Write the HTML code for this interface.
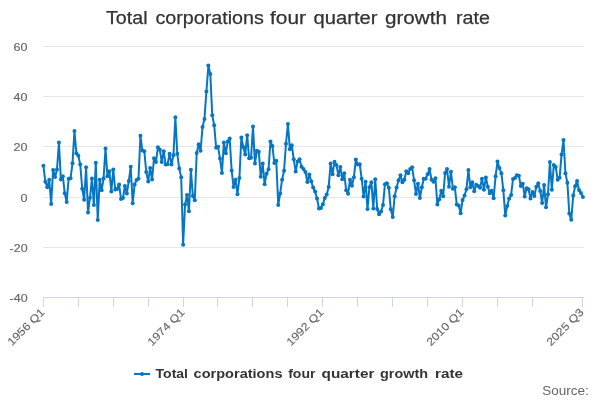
<!DOCTYPE html>
<html><head><meta charset="utf-8"><style>
html,body{margin:0;padding:0;background:#fff;width:600px;height:400px;overflow:hidden}
svg{display:block;font-family:"Liberation Sans",sans-serif;will-change:transform}
</style></head><body>
<svg width="600" height="400" viewBox="0 0 600 400">
<rect width="600" height="400" fill="#fff"/>
<text x="106.00" y="24" font-size="18.3" fill="#333333" stroke="#333333" stroke-width="0.25" textLength="41.50" lengthAdjust="spacingAndGlyphs">Total</text><text x="155.50" y="24" font-size="18.3" fill="#333333" stroke="#333333" stroke-width="0.25" textLength="108.25" lengthAdjust="spacingAndGlyphs">corporations</text><text x="270.00" y="24" font-size="18.3" fill="#333333" stroke="#333333" stroke-width="0.25" textLength="36.00" lengthAdjust="spacingAndGlyphs">four</text><text x="313.50" y="24" font-size="18.3" fill="#333333" stroke="#333333" stroke-width="0.25" textLength="64.00" lengthAdjust="spacingAndGlyphs">quarter</text><text x="385.00" y="24" font-size="18.3" fill="#333333" stroke="#333333" stroke-width="0.25" textLength="62.00" lengthAdjust="spacingAndGlyphs">growth</text><text x="456.00" y="24" font-size="18.3" fill="#333333" stroke="#333333" stroke-width="0.25" textLength="34.00" lengthAdjust="spacingAndGlyphs">rate</text>
<path d="M43 46.5 L584 46.5" stroke="#e6e6e6" stroke-width="1"/><path d="M43 96.5 L584 96.5" stroke="#e6e6e6" stroke-width="1"/><path d="M43 146.5 L584 146.5" stroke="#e6e6e6" stroke-width="1"/><path d="M43 197.5 L584 197.5" stroke="#e6e6e6" stroke-width="1"/><path d="M43 247.5 L584 247.5" stroke="#e6e6e6" stroke-width="1"/>
<path d="M43 297.5 L584 297.5" stroke="#ccd6eb" stroke-width="1"/>
<path d="M43.5 297.5 L43.5 307" stroke="#ccd6eb" stroke-width="1"/><path d="M78.5 297.5 L78.5 307" stroke="#ccd6eb" stroke-width="1"/><path d="M113.5 297.5 L113.5 307" stroke="#ccd6eb" stroke-width="1"/><path d="M148.5 297.5 L148.5 307" stroke="#ccd6eb" stroke-width="1"/><path d="M183.5 297.5 L183.5 307" stroke="#ccd6eb" stroke-width="1"/><path d="M217.5 297.5 L217.5 307" stroke="#ccd6eb" stroke-width="1"/><path d="M252.5 297.5 L252.5 307" stroke="#ccd6eb" stroke-width="1"/><path d="M287.5 297.5 L287.5 307" stroke="#ccd6eb" stroke-width="1"/><path d="M322.5 297.5 L322.5 307" stroke="#ccd6eb" stroke-width="1"/><path d="M357.5 297.5 L357.5 307" stroke="#ccd6eb" stroke-width="1"/><path d="M392.5 297.5 L392.5 307" stroke="#ccd6eb" stroke-width="1"/><path d="M427.5 297.5 L427.5 307" stroke="#ccd6eb" stroke-width="1"/><path d="M462.5 297.5 L462.5 307" stroke="#ccd6eb" stroke-width="1"/><path d="M497.5 297.5 L497.5 307" stroke="#ccd6eb" stroke-width="1"/><path d="M532.5 297.5 L532.5 307" stroke="#ccd6eb" stroke-width="1"/><path d="M582.5 297.5 L582.5 307" stroke="#ccd6eb" stroke-width="1"/>
<g font-size="11" fill="#666666" stroke="#666666" stroke-width="0.15"><text x="27.6" y="50.6" text-anchor="end" textLength="14.0" lengthAdjust="spacingAndGlyphs">60</text><text x="27.6" y="100.6" text-anchor="end" textLength="14.0" lengthAdjust="spacingAndGlyphs">40</text><text x="27.6" y="150.6" text-anchor="end" textLength="14.0" lengthAdjust="spacingAndGlyphs">20</text><text x="27.6" y="201.6" text-anchor="end" textLength="7.0" lengthAdjust="spacingAndGlyphs">0</text><text x="27.6" y="251.6" text-anchor="end" textLength="17.97" lengthAdjust="spacingAndGlyphs">-20</text><text x="27.6" y="301.6" text-anchor="end" textLength="17.97" lengthAdjust="spacingAndGlyphs">-40</text></g>
<g font-size="11" fill="#666666" stroke="#666666" stroke-width="0.15"><text x="45.3" y="313" text-anchor="end" textLength="47.2" lengthAdjust="spacingAndGlyphs" transform="rotate(-45 45.3 313)">1956 Q1</text><text x="185.3" y="313" text-anchor="end" textLength="47.2" lengthAdjust="spacingAndGlyphs" transform="rotate(-45 185.3 313)">1974 Q1</text><text x="324.3" y="313" text-anchor="end" textLength="47.2" lengthAdjust="spacingAndGlyphs" transform="rotate(-45 324.3 313)">1992 Q1</text><text x="464.3" y="313" text-anchor="end" textLength="47.2" lengthAdjust="spacingAndGlyphs" transform="rotate(-45 464.3 313)">2010 Q1</text><text x="584.3" y="313" text-anchor="end" textLength="47.2" lengthAdjust="spacingAndGlyphs" transform="rotate(-45 584.3 313)">2025 Q3</text></g>
<path d="M43.40 165.85 L45.34 181.68 L47.28 187.20 L49.22 179.67 L51.16 204.03 L53.10 170.12 L55.04 176.90 L56.98 169.62 L58.93 142.49 L60.87 179.41 L62.81 176.15 L64.75 193.23 L66.69 202.02 L68.63 178.66 L70.57 178.16 L72.51 163.34 L74.45 130.93 L76.39 153.29 L78.33 155.80 L80.27 164.59 L82.21 188.71 L84.15 199.76 L86.09 167.36 L88.03 212.57 L89.98 197.75 L91.92 178.41 L93.86 205.04 L95.80 162.84 L97.74 220.11 L99.68 179.67 L101.62 190.22 L103.56 178.41 L105.50 148.52 L107.44 176.15 L109.38 171.13 L111.32 191.47 L113.26 169.62 L115.20 189.46 L117.14 188.96 L119.09 184.44 L121.03 199.01 L122.97 198.00 L124.91 185.95 L126.85 193.48 L128.79 180.92 L130.73 166.85 L132.67 203.28 L134.61 184.44 L136.55 179.92 L138.49 178.66 L140.43 135.71 L142.37 150.53 L144.31 151.28 L146.25 171.88 L148.19 181.42 L150.14 168.11 L152.08 179.41 L154.02 158.31 L155.96 162.08 L157.90 147.26 L159.84 149.77 L161.78 162.08 L163.72 151.28 L165.66 164.59 L167.60 164.34 L169.54 153.79 L171.48 164.59 L173.42 155.30 L175.36 117.37 L177.30 153.79 L179.25 168.61 L181.19 177.15 L183.13 244.73 L185.07 204.53 L187.01 194.99 L188.95 211.32 L190.89 169.87 L192.83 195.99 L194.77 200.26 L196.71 153.04 L198.65 144.25 L200.59 150.78 L202.53 126.91 L204.47 118.88 L206.41 91.49 L208.36 65.62 L210.30 73.91 L212.24 115.36 L214.18 125.16 L216.12 147.76 L218.06 146.76 L220.00 158.57 L221.94 172.88 L223.88 142.49 L225.82 153.29 L227.76 141.48 L229.70 138.47 L231.64 170.62 L233.58 186.95 L235.52 179.67 L237.46 194.24 L239.41 177.91 L241.35 137.46 L243.29 147.01 L245.23 154.55 L247.17 135.20 L249.11 158.31 L251.05 157.81 L252.99 126.41 L254.93 163.59 L256.87 150.78 L258.81 151.78 L260.75 176.65 L262.69 163.59 L264.63 184.19 L266.57 173.64 L268.52 169.37 L270.46 141.48 L272.40 146.01 L274.34 163.09 L276.28 160.83 L278.22 205.04 L280.16 193.48 L282.10 179.67 L284.04 170.87 L285.98 143.74 L287.92 123.90 L289.86 149.27 L291.80 145.25 L293.74 159.32 L295.68 171.38 L297.62 161.58 L299.57 159.32 L301.51 166.85 L303.45 169.12 L305.39 171.88 L307.33 181.93 L309.27 174.39 L311.21 181.17 L313.15 187.45 L315.09 191.47 L317.03 198.51 L318.97 208.55 L320.91 208.05 L322.85 204.28 L324.79 198.00 L326.73 194.49 L328.68 186.95 L330.62 163.59 L332.56 174.14 L334.50 161.83 L336.44 165.10 L338.38 175.14 L340.32 167.11 L342.26 179.16 L344.20 173.13 L346.14 190.22 L348.08 193.73 L350.02 179.67 L351.96 185.69 L353.90 177.15 L355.84 159.57 L357.78 164.59 L359.73 164.34 L361.67 178.66 L363.61 196.50 L365.55 181.68 L367.49 209.06 L369.43 187.20 L371.37 182.18 L373.31 208.55 L375.25 179.16 L377.19 209.06 L379.13 214.33 L381.07 211.57 L383.01 205.04 L384.95 184.19 L386.89 183.18 L388.84 187.70 L390.78 209.31 L392.72 217.09 L394.66 196.25 L396.60 187.45 L398.54 180.17 L400.48 175.14 L402.42 182.18 L404.36 179.67 L406.30 171.13 L408.24 173.13 L410.18 169.12 L412.12 167.36 L414.06 180.17 L416.00 193.98 L417.94 183.69 L419.89 198.00 L421.83 187.20 L423.77 178.66 L425.71 178.66 L427.65 174.14 L429.59 169.12 L431.53 179.67 L433.47 181.68 L435.41 178.16 L437.35 204.53 L439.29 199.26 L441.23 190.72 L443.17 196.25 L445.11 172.88 L447.05 169.12 L449.00 186.70 L450.94 171.63 L452.88 188.71 L454.82 187.20 L456.76 204.53 L458.70 205.54 L460.64 213.33 L462.58 200.01 L464.52 195.49 L466.46 189.21 L468.40 170.12 L470.34 187.20 L472.28 182.18 L474.22 191.22 L476.16 184.69 L478.11 185.95 L480.05 187.70 L481.99 178.66 L483.93 189.71 L485.87 177.41 L487.81 186.70 L489.75 193.23 L491.69 190.72 L493.63 198.25 L495.57 176.15 L497.51 161.58 L499.45 168.11 L501.39 173.13 L503.33 190.22 L505.27 215.59 L507.21 206.04 L509.16 198.51 L511.10 194.99 L513.04 178.91 L514.98 177.91 L516.92 175.14 L518.86 175.65 L520.80 185.95 L522.74 183.69 L524.68 196.50 L526.62 188.21 L528.56 189.21 L530.50 198.51 L532.44 191.97 L534.38 195.99 L536.32 186.70 L538.27 183.18 L540.21 190.97 L542.15 203.03 L544.09 184.94 L546.03 207.30 L547.97 194.24 L549.91 162.08 L551.85 189.71 L553.79 165.10 L555.73 167.11 L557.67 179.67 L559.61 177.66 L561.55 154.55 L563.49 139.98 L565.43 173.13 L567.37 182.68 L569.32 213.58 L571.26 219.86 L573.20 195.49 L575.14 186.20 L577.08 180.92 L579.02 189.97 L580.96 192.98 L582.90 197.00" fill="none" stroke="#0676c4" stroke-width="2" stroke-linejoin="round" stroke-linecap="round"/>
<g fill="#0676c4"><circle cx="43.40" cy="165.85" r="2"/><circle cx="45.34" cy="181.68" r="2"/><circle cx="47.28" cy="187.20" r="2"/><circle cx="49.22" cy="179.67" r="2"/><circle cx="51.16" cy="204.03" r="2"/><circle cx="53.10" cy="170.12" r="2"/><circle cx="55.04" cy="176.90" r="2"/><circle cx="56.98" cy="169.62" r="2"/><circle cx="58.93" cy="142.49" r="2"/><circle cx="60.87" cy="179.41" r="2"/><circle cx="62.81" cy="176.15" r="2"/><circle cx="64.75" cy="193.23" r="2"/><circle cx="66.69" cy="202.02" r="2"/><circle cx="68.63" cy="178.66" r="2"/><circle cx="70.57" cy="178.16" r="2"/><circle cx="72.51" cy="163.34" r="2"/><circle cx="74.45" cy="130.93" r="2"/><circle cx="76.39" cy="153.29" r="2"/><circle cx="78.33" cy="155.80" r="2"/><circle cx="80.27" cy="164.59" r="2"/><circle cx="82.21" cy="188.71" r="2"/><circle cx="84.15" cy="199.76" r="2"/><circle cx="86.09" cy="167.36" r="2"/><circle cx="88.03" cy="212.57" r="2"/><circle cx="89.98" cy="197.75" r="2"/><circle cx="91.92" cy="178.41" r="2"/><circle cx="93.86" cy="205.04" r="2"/><circle cx="95.80" cy="162.84" r="2"/><circle cx="97.74" cy="220.11" r="2"/><circle cx="99.68" cy="179.67" r="2"/><circle cx="101.62" cy="190.22" r="2"/><circle cx="103.56" cy="178.41" r="2"/><circle cx="105.50" cy="148.52" r="2"/><circle cx="107.44" cy="176.15" r="2"/><circle cx="109.38" cy="171.13" r="2"/><circle cx="111.32" cy="191.47" r="2"/><circle cx="113.26" cy="169.62" r="2"/><circle cx="115.20" cy="189.46" r="2"/><circle cx="117.14" cy="188.96" r="2"/><circle cx="119.09" cy="184.44" r="2"/><circle cx="121.03" cy="199.01" r="2"/><circle cx="122.97" cy="198.00" r="2"/><circle cx="124.91" cy="185.95" r="2"/><circle cx="126.85" cy="193.48" r="2"/><circle cx="128.79" cy="180.92" r="2"/><circle cx="130.73" cy="166.85" r="2"/><circle cx="132.67" cy="203.28" r="2"/><circle cx="134.61" cy="184.44" r="2"/><circle cx="136.55" cy="179.92" r="2"/><circle cx="138.49" cy="178.66" r="2"/><circle cx="140.43" cy="135.71" r="2"/><circle cx="142.37" cy="150.53" r="2"/><circle cx="144.31" cy="151.28" r="2"/><circle cx="146.25" cy="171.88" r="2"/><circle cx="148.19" cy="181.42" r="2"/><circle cx="150.14" cy="168.11" r="2"/><circle cx="152.08" cy="179.41" r="2"/><circle cx="154.02" cy="158.31" r="2"/><circle cx="155.96" cy="162.08" r="2"/><circle cx="157.90" cy="147.26" r="2"/><circle cx="159.84" cy="149.77" r="2"/><circle cx="161.78" cy="162.08" r="2"/><circle cx="163.72" cy="151.28" r="2"/><circle cx="165.66" cy="164.59" r="2"/><circle cx="167.60" cy="164.34" r="2"/><circle cx="169.54" cy="153.79" r="2"/><circle cx="171.48" cy="164.59" r="2"/><circle cx="173.42" cy="155.30" r="2"/><circle cx="175.36" cy="117.37" r="2"/><circle cx="177.30" cy="153.79" r="2"/><circle cx="179.25" cy="168.61" r="2"/><circle cx="181.19" cy="177.15" r="2"/><circle cx="183.13" cy="244.73" r="2"/><circle cx="185.07" cy="204.53" r="2"/><circle cx="187.01" cy="194.99" r="2"/><circle cx="188.95" cy="211.32" r="2"/><circle cx="190.89" cy="169.87" r="2"/><circle cx="192.83" cy="195.99" r="2"/><circle cx="194.77" cy="200.26" r="2"/><circle cx="196.71" cy="153.04" r="2"/><circle cx="198.65" cy="144.25" r="2"/><circle cx="200.59" cy="150.78" r="2"/><circle cx="202.53" cy="126.91" r="2"/><circle cx="204.47" cy="118.88" r="2"/><circle cx="206.41" cy="91.49" r="2"/><circle cx="208.36" cy="65.62" r="2"/><circle cx="210.30" cy="73.91" r="2"/><circle cx="212.24" cy="115.36" r="2"/><circle cx="214.18" cy="125.16" r="2"/><circle cx="216.12" cy="147.76" r="2"/><circle cx="218.06" cy="146.76" r="2"/><circle cx="220.00" cy="158.57" r="2"/><circle cx="221.94" cy="172.88" r="2"/><circle cx="223.88" cy="142.49" r="2"/><circle cx="225.82" cy="153.29" r="2"/><circle cx="227.76" cy="141.48" r="2"/><circle cx="229.70" cy="138.47" r="2"/><circle cx="231.64" cy="170.62" r="2"/><circle cx="233.58" cy="186.95" r="2"/><circle cx="235.52" cy="179.67" r="2"/><circle cx="237.46" cy="194.24" r="2"/><circle cx="239.41" cy="177.91" r="2"/><circle cx="241.35" cy="137.46" r="2"/><circle cx="243.29" cy="147.01" r="2"/><circle cx="245.23" cy="154.55" r="2"/><circle cx="247.17" cy="135.20" r="2"/><circle cx="249.11" cy="158.31" r="2"/><circle cx="251.05" cy="157.81" r="2"/><circle cx="252.99" cy="126.41" r="2"/><circle cx="254.93" cy="163.59" r="2"/><circle cx="256.87" cy="150.78" r="2"/><circle cx="258.81" cy="151.78" r="2"/><circle cx="260.75" cy="176.65" r="2"/><circle cx="262.69" cy="163.59" r="2"/><circle cx="264.63" cy="184.19" r="2"/><circle cx="266.57" cy="173.64" r="2"/><circle cx="268.52" cy="169.37" r="2"/><circle cx="270.46" cy="141.48" r="2"/><circle cx="272.40" cy="146.01" r="2"/><circle cx="274.34" cy="163.09" r="2"/><circle cx="276.28" cy="160.83" r="2"/><circle cx="278.22" cy="205.04" r="2"/><circle cx="280.16" cy="193.48" r="2"/><circle cx="282.10" cy="179.67" r="2"/><circle cx="284.04" cy="170.87" r="2"/><circle cx="285.98" cy="143.74" r="2"/><circle cx="287.92" cy="123.90" r="2"/><circle cx="289.86" cy="149.27" r="2"/><circle cx="291.80" cy="145.25" r="2"/><circle cx="293.74" cy="159.32" r="2"/><circle cx="295.68" cy="171.38" r="2"/><circle cx="297.62" cy="161.58" r="2"/><circle cx="299.57" cy="159.32" r="2"/><circle cx="301.51" cy="166.85" r="2"/><circle cx="303.45" cy="169.12" r="2"/><circle cx="305.39" cy="171.88" r="2"/><circle cx="307.33" cy="181.93" r="2"/><circle cx="309.27" cy="174.39" r="2"/><circle cx="311.21" cy="181.17" r="2"/><circle cx="313.15" cy="187.45" r="2"/><circle cx="315.09" cy="191.47" r="2"/><circle cx="317.03" cy="198.51" r="2"/><circle cx="318.97" cy="208.55" r="2"/><circle cx="320.91" cy="208.05" r="2"/><circle cx="322.85" cy="204.28" r="2"/><circle cx="324.79" cy="198.00" r="2"/><circle cx="326.73" cy="194.49" r="2"/><circle cx="328.68" cy="186.95" r="2"/><circle cx="330.62" cy="163.59" r="2"/><circle cx="332.56" cy="174.14" r="2"/><circle cx="334.50" cy="161.83" r="2"/><circle cx="336.44" cy="165.10" r="2"/><circle cx="338.38" cy="175.14" r="2"/><circle cx="340.32" cy="167.11" r="2"/><circle cx="342.26" cy="179.16" r="2"/><circle cx="344.20" cy="173.13" r="2"/><circle cx="346.14" cy="190.22" r="2"/><circle cx="348.08" cy="193.73" r="2"/><circle cx="350.02" cy="179.67" r="2"/><circle cx="351.96" cy="185.69" r="2"/><circle cx="353.90" cy="177.15" r="2"/><circle cx="355.84" cy="159.57" r="2"/><circle cx="357.78" cy="164.59" r="2"/><circle cx="359.73" cy="164.34" r="2"/><circle cx="361.67" cy="178.66" r="2"/><circle cx="363.61" cy="196.50" r="2"/><circle cx="365.55" cy="181.68" r="2"/><circle cx="367.49" cy="209.06" r="2"/><circle cx="369.43" cy="187.20" r="2"/><circle cx="371.37" cy="182.18" r="2"/><circle cx="373.31" cy="208.55" r="2"/><circle cx="375.25" cy="179.16" r="2"/><circle cx="377.19" cy="209.06" r="2"/><circle cx="379.13" cy="214.33" r="2"/><circle cx="381.07" cy="211.57" r="2"/><circle cx="383.01" cy="205.04" r="2"/><circle cx="384.95" cy="184.19" r="2"/><circle cx="386.89" cy="183.18" r="2"/><circle cx="388.84" cy="187.70" r="2"/><circle cx="390.78" cy="209.31" r="2"/><circle cx="392.72" cy="217.09" r="2"/><circle cx="394.66" cy="196.25" r="2"/><circle cx="396.60" cy="187.45" r="2"/><circle cx="398.54" cy="180.17" r="2"/><circle cx="400.48" cy="175.14" r="2"/><circle cx="402.42" cy="182.18" r="2"/><circle cx="404.36" cy="179.67" r="2"/><circle cx="406.30" cy="171.13" r="2"/><circle cx="408.24" cy="173.13" r="2"/><circle cx="410.18" cy="169.12" r="2"/><circle cx="412.12" cy="167.36" r="2"/><circle cx="414.06" cy="180.17" r="2"/><circle cx="416.00" cy="193.98" r="2"/><circle cx="417.94" cy="183.69" r="2"/><circle cx="419.89" cy="198.00" r="2"/><circle cx="421.83" cy="187.20" r="2"/><circle cx="423.77" cy="178.66" r="2"/><circle cx="425.71" cy="178.66" r="2"/><circle cx="427.65" cy="174.14" r="2"/><circle cx="429.59" cy="169.12" r="2"/><circle cx="431.53" cy="179.67" r="2"/><circle cx="433.47" cy="181.68" r="2"/><circle cx="435.41" cy="178.16" r="2"/><circle cx="437.35" cy="204.53" r="2"/><circle cx="439.29" cy="199.26" r="2"/><circle cx="441.23" cy="190.72" r="2"/><circle cx="443.17" cy="196.25" r="2"/><circle cx="445.11" cy="172.88" r="2"/><circle cx="447.05" cy="169.12" r="2"/><circle cx="449.00" cy="186.70" r="2"/><circle cx="450.94" cy="171.63" r="2"/><circle cx="452.88" cy="188.71" r="2"/><circle cx="454.82" cy="187.20" r="2"/><circle cx="456.76" cy="204.53" r="2"/><circle cx="458.70" cy="205.54" r="2"/><circle cx="460.64" cy="213.33" r="2"/><circle cx="462.58" cy="200.01" r="2"/><circle cx="464.52" cy="195.49" r="2"/><circle cx="466.46" cy="189.21" r="2"/><circle cx="468.40" cy="170.12" r="2"/><circle cx="470.34" cy="187.20" r="2"/><circle cx="472.28" cy="182.18" r="2"/><circle cx="474.22" cy="191.22" r="2"/><circle cx="476.16" cy="184.69" r="2"/><circle cx="478.11" cy="185.95" r="2"/><circle cx="480.05" cy="187.70" r="2"/><circle cx="481.99" cy="178.66" r="2"/><circle cx="483.93" cy="189.71" r="2"/><circle cx="485.87" cy="177.41" r="2"/><circle cx="487.81" cy="186.70" r="2"/><circle cx="489.75" cy="193.23" r="2"/><circle cx="491.69" cy="190.72" r="2"/><circle cx="493.63" cy="198.25" r="2"/><circle cx="495.57" cy="176.15" r="2"/><circle cx="497.51" cy="161.58" r="2"/><circle cx="499.45" cy="168.11" r="2"/><circle cx="501.39" cy="173.13" r="2"/><circle cx="503.33" cy="190.22" r="2"/><circle cx="505.27" cy="215.59" r="2"/><circle cx="507.21" cy="206.04" r="2"/><circle cx="509.16" cy="198.51" r="2"/><circle cx="511.10" cy="194.99" r="2"/><circle cx="513.04" cy="178.91" r="2"/><circle cx="514.98" cy="177.91" r="2"/><circle cx="516.92" cy="175.14" r="2"/><circle cx="518.86" cy="175.65" r="2"/><circle cx="520.80" cy="185.95" r="2"/><circle cx="522.74" cy="183.69" r="2"/><circle cx="524.68" cy="196.50" r="2"/><circle cx="526.62" cy="188.21" r="2"/><circle cx="528.56" cy="189.21" r="2"/><circle cx="530.50" cy="198.51" r="2"/><circle cx="532.44" cy="191.97" r="2"/><circle cx="534.38" cy="195.99" r="2"/><circle cx="536.32" cy="186.70" r="2"/><circle cx="538.27" cy="183.18" r="2"/><circle cx="540.21" cy="190.97" r="2"/><circle cx="542.15" cy="203.03" r="2"/><circle cx="544.09" cy="184.94" r="2"/><circle cx="546.03" cy="207.30" r="2"/><circle cx="547.97" cy="194.24" r="2"/><circle cx="549.91" cy="162.08" r="2"/><circle cx="551.85" cy="189.71" r="2"/><circle cx="553.79" cy="165.10" r="2"/><circle cx="555.73" cy="167.11" r="2"/><circle cx="557.67" cy="179.67" r="2"/><circle cx="559.61" cy="177.66" r="2"/><circle cx="561.55" cy="154.55" r="2"/><circle cx="563.49" cy="139.98" r="2"/><circle cx="565.43" cy="173.13" r="2"/><circle cx="567.37" cy="182.68" r="2"/><circle cx="569.32" cy="213.58" r="2"/><circle cx="571.26" cy="219.86" r="2"/><circle cx="573.20" cy="195.49" r="2"/><circle cx="575.14" cy="186.20" r="2"/><circle cx="577.08" cy="180.92" r="2"/><circle cx="579.02" cy="189.97" r="2"/><circle cx="580.96" cy="192.98" r="2"/><circle cx="582.90" cy="197.00" r="2"/></g>
<path d="M134 374 L150 374" stroke="#0676c4" stroke-width="2"/>
<circle cx="142" cy="374" r="2" fill="#0676c4"/>
<text x="155.60" y="378" font-size="12.2" font-weight="bold" fill="#333333" textLength="32.40" lengthAdjust="spacingAndGlyphs">Total</text><text x="193.60" y="378" font-size="12.2" font-weight="bold" fill="#333333" textLength="88.90" lengthAdjust="spacingAndGlyphs">corporations</text><text x="288.20" y="378" font-size="12.2" font-weight="bold" fill="#333333" textLength="27.30" lengthAdjust="spacingAndGlyphs">four</text><text x="321.60" y="378" font-size="12.2" font-weight="bold" fill="#333333" textLength="52.80" lengthAdjust="spacingAndGlyphs">quarter</text><text x="380.00" y="378" font-size="12.2" font-weight="bold" fill="#333333" textLength="48.00" lengthAdjust="spacingAndGlyphs">growth</text><text x="435.00" y="378" font-size="12.2" font-weight="bold" fill="#333333" textLength="28.00" lengthAdjust="spacingAndGlyphs">rate</text>
<text x="542.3" y="394.5" font-size="12" fill="#666666" textLength="46.5" lengthAdjust="spacingAndGlyphs">Source:</text>
</svg>
</body></html>
